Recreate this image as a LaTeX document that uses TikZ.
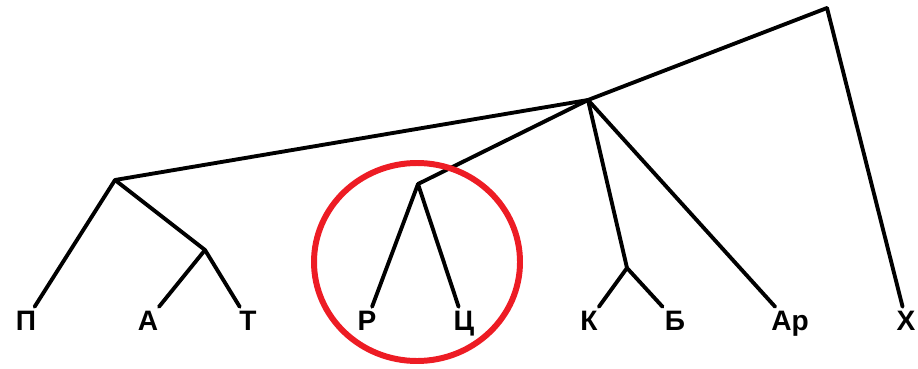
\documentclass[tikz,border=0pt]{standalone}
\usepackage{fontspec}
\setmainfont{Liberation Sans}

\tikzset{
    edge/.style={line width=2.2pt, line cap=round},
    leaf/.style={font=\fontsize{16}{18}\selectfont\bfseries, inner sep=2pt, anchor=base},
}

\begin{document}
\begin{tikzpicture}[x=0.02cm, y=-0.02cm]

    \useasboundingbox (0,0) rectangle (918,368);

    % junctions
    \coordinate (root) at (827,8);
    \coordinate (n1) at (588,100);
    \coordinate (n2) at (115,180);
    \coordinate (n3) at (205,250);
    \coordinate (n4) at (418,184);
    \coordinate (n5) at (627,268);

    % leaves
    \node[leaf] (P) at (26,330) {П};
    \node[leaf] (A) at (148,330) {А};
    \node[leaf] (T) at (248,330) {Т};
    \node[leaf] (R) at (367,330) {Р};
    \node[leaf] (C) at (464,330) {Ц};
    \node[leaf] (K) at (589,330) {К};
    \node[leaf] (B) at (675,330) {Б};
    \node[leaf] (Ar) at (790,330) {Ар};
    \node[leaf] (H) at (906,330) {Х};

    % tree
    \foreach \from/\to in {
        root/n1,
        root/H,
        n1/n2,
        n1/n4,
        n1/n5,
        n1/Ar,
        n2/P,
        n2/n3,
        n3/A,
        n3/T,
        n4/R,
        n4/C,
        n5/K,
        n5/B%
    }{
        \draw[edge] (\from) -- (\to);
    }

    % highlight
    \draw[line width=3.4pt, color={rgb,255:red,237;green,28;blue,36}]
        (417,262) ellipse [x radius=103, y radius=99];
\end{tikzpicture}
\end{document}
